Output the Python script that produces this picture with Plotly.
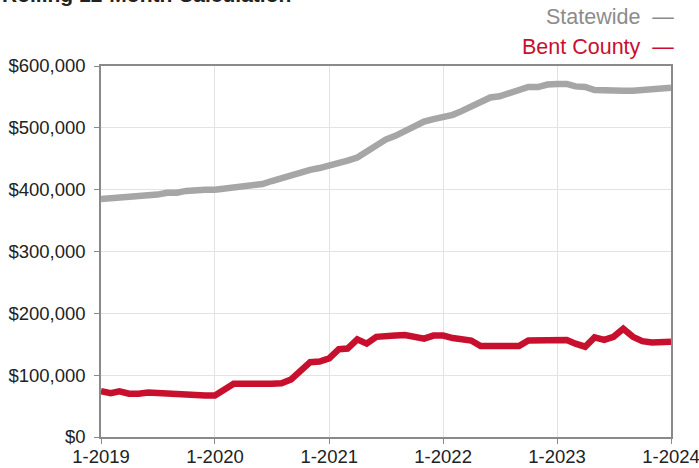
import pandas as pd
import plotly.graph_objects as go

months = pd.date_range("2019-01-01", periods=61, freq="MS")

statewide = [
    385, 386, 387, 389, 390, 390, 392, 395, 395, 398, 400, 400,   # 2019
    400, 402, 405, 407, 407, 409, 414, 419, 424, 428, 432, 435,   # 2020
    439, 441, 447, 452, 462, 472, 481, 487, 495, 502, 510, 514,   # 2021
    517, 521, 527, 535, 540, 549, 551, 556, 561, 566, 566, 570,   # 2022
    571, 571, 567, 566, 561, 560, 560, 560, 560, 561, 564, 565,   # 2023
    565,                                                          # 2024
]
bent_county = [
    74, 71, 74, 70, 70, 72, 71, 70, 68, 67, 67, 67,               # 2019
    67, 76, 86, 86, 87, 86, 86, 87, 93, 106, 121, 122,            # 2020
    127, 142, 143, 158, 151, 162, 164, 164, 165, 163, 159, 164,   # 2021
    164, 160, 157, 156, 147, 146, 147, 147, 147, 156, 156, 155,   # 2022
    155, 157, 151, 146, 161, 157, 162, 175, 162, 155, 153, 153,   # 2023
    154,                                                          # 2024
]
statewide = [v * 1000 for v in statewide]
bent_county = [v * 1000 for v in bent_county]

tick_dates = ["2019-01-01", "2020-01-01", "2021-01-01", "2022-01-01", "2023-01-01", "2024-01-01"]
tick_labels = ["1-2019", "1-2020", "1-2021", "1-2022", "1-2023", "1-2024"]
y_ticks = [0, 100000, 200000, 300000, 400000, 500000, 600000]
y_labels = ["$0", "$100,000", "$200,000", "$300,000", "$400,000", "$500,000", "$600,000"]

GRAY = "#a6a6a6"
RED = "#c8102e"
FONT = "Liberation Sans, Arial, sans-serif"

fig = go.Figure()
fig.add_trace(go.Scatter(x=months, y=statewide, mode="lines", name="Statewide",
                         line=dict(color=GRAY, width=6.5), showlegend=False))
fig.add_trace(go.Scatter(x=months, y=bent_county, mode="lines", name="Bent County",
                         line=dict(color=RED, width=6.5), showlegend=False))

fig.update_layout(
    width=699, height=468,
    margin=dict(l=101, r=28, t=66, b=31, pad=0, autoexpand=False),
    paper_bgcolor="white", plot_bgcolor="white",
    font=dict(family=FONT, size=18, color="#222222"),
)
fig.update_xaxes(
    range=["2019-01-01", "2024-01-01"],
    tickvals=tick_dates, ticktext=tick_labels,
    showgrid=True, gridcolor="#e3e3e3", gridwidth=1,
    showline=True, linecolor="#8a8a8a", linewidth=1.5, mirror=True,
    ticks="outside", ticklen=5, tickcolor="#8a8a8a",
    tickfont=dict(size=18.5, color="#222222"),
    ticklabeloverflow="allow", ticklabelstandoff=-3,
    zeroline=False, automargin=False,
)
fig.update_yaxes(
    range=[0, 600000],
    tickvals=y_ticks, ticktext=y_labels,
    showgrid=True, gridcolor="#e3e3e3", gridwidth=1,
    showline=True, linecolor="#8a8a8a", linewidth=1.5, mirror=True,
    ticks="outside", ticklen=5, tickcolor="#8a8a8a",
    tickfont=dict(size=18.5, color="#222222"),
    ticklabeloverflow="allow", ticklabelstandoff=5,
    zeroline=False, automargin=False,
)

fig.add_annotation(text="<b>Rolling 12-Month Calculation</b>", xref="paper", yref="paper",
                   x=-0.177, y=1.157, xanchor="left", yanchor="bottom", showarrow=False,
                   font=dict(size=21, color="#222222"))
fig.add_annotation(text="Statewide  —", xref="paper", yref="paper",
                   x=1.009, y=1.132, xanchor="right", yanchor="middle", showarrow=False,
                   font=dict(size=21.5, color="#8c8c8c"))
fig.add_annotation(text="Bent County  —", xref="paper", yref="paper",
                   x=1.009, y=1.051, xanchor="right", yanchor="middle", showarrow=False,
                   font=dict(size=21.5, color=RED))

fig.write_html("out.html", config={"displayModeBar": False},
               post_script="document.body.style.margin='0';document.body.style.overflow='hidden';")
